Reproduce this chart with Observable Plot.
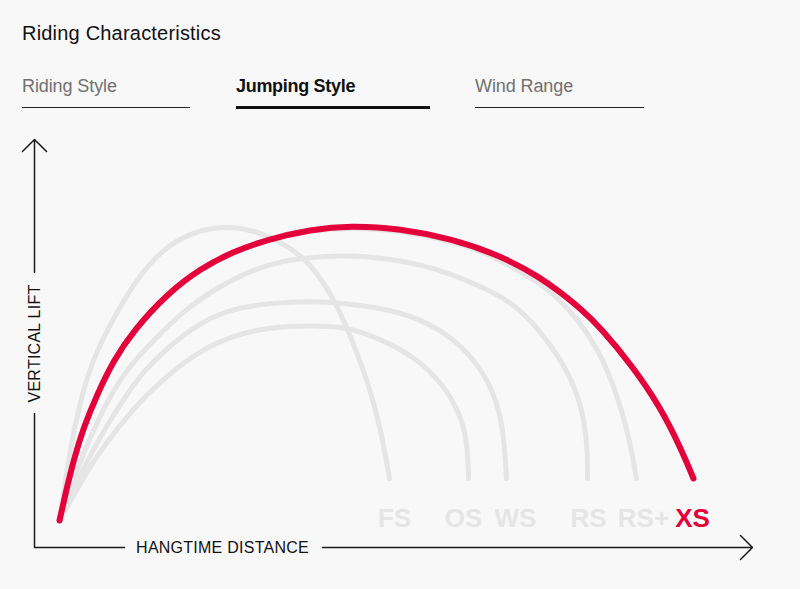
<!DOCTYPE html>
<html>
<head>
<meta charset="utf-8">
<script src="https://cdn.jsdelivr.net/npm/d3@7"></script>
<script src="https://cdn.jsdelivr.net/npm/@observablehq/plot@0.6"></script>
<style>
  html, body { margin: 0; padding: 0; background: #f8f8f8; }
  #wrap { width: 800px; height: 589px; position: relative; background: #f8f8f8; overflow: hidden;
          font-family: "Liberation Sans", Arial, sans-serif; }
  #head { position: relative; height: 120px; }
  .title { position: absolute; left: 22px; top: 23px; font-size: 20px; line-height: 20px; color: #111; letter-spacing: 0.2px; white-space: nowrap; }
  .tab { position: absolute; top: 77px; font-size: 18px; line-height: 18px; color: #707070; white-space: nowrap; letter-spacing: -0.1px; }
  .tab.active { color: #111; font-weight: bold; letter-spacing: -0.3px; }
  .rule { position: absolute; top: 107px; height: 1.3px; background: #222; }
  .rule.active { top: 105.5px; height: 3px; background: #111; }
  #chart { position: relative; height: 469px; }
</style>
</head>
<body>
<div id="wrap">
  <div id="head">
    <div class="title" id="title"></div>
    <div class="tab" id="tab0" style="left:22px"></div>
    <div class="tab active" id="tab1" style="left:236px"></div>
    <div class="tab" id="tab2" style="left:475px"></div>
    <div class="rule" style="left:22px;width:168px"></div>
    <div class="rule active" style="left:236px;width:194px"></div>
    <div class="rule" style="left:475px;width:169px"></div>
  </div>
  <div id="chart"></div>
</div>
<script>
// ---- text ----
const titleText = "Riding Characteristics";
const tabNames = ["Riding Style", "Jumping Style", "Wind Range"];
const yAxisLabel = "VERTICAL LIFT";
const xAxisLabel = "HANGTIME DISTANCE";

// ---- series (distance, lift) ----
const seriesNames = ["FS", "OS", "WS", "RS", "RS+", "XS"];
const highlighted = "XS";

const FS_distance = [26, 29, 34, 40, 48, 58, 76, 99, 126, 156, 189, 223, 256, 276, 299, 316, 333, 346, 355];
const FS_lift     = [27, 54, 87, 120, 154, 187, 224, 264, 297, 315, 322, 317, 300, 284, 250, 212, 167, 120, 69];

const OS_distance = [25, 40, 59, 83, 113, 139, 166, 199, 233, 276, 306, 333, 376, 406, 426, 433, 434];
const OS_lift     = [27, 54, 87, 120, 154, 177, 197, 212, 220, 222, 221, 214, 194, 167, 134, 104, 69];

const WS_distance = [25, 37, 53, 71, 93, 109, 149, 183, 216, 249, 276, 306, 366, 409, 439, 459, 469, 472];
const WS_lift     = [27, 54, 87, 120, 154, 177, 214, 234, 242, 245, 246, 245, 237, 217, 190, 157, 120, 69];

const RS_distance = [25, 34, 46, 60, 77, 94, 116, 149, 183, 216, 249, 276, 306, 333, 366, 399, 446, 479, 501, 524, 541, 550, 553, 553];
const RS_lift     = [27, 54, 87, 120, 154, 180, 204, 237, 260, 277, 287, 290, 292, 291, 287, 280, 262, 244, 222, 192, 160, 127, 97, 69];

const RSP_distance = [25, 31, 39, 49, 63, 79, 99, 133, 166, 199, 233, 276, 316, 366, 416, 446, 486, 513, 533, 553, 569, 582, 592, 598, 602];
const RSP_lift     = [27, 54, 87, 120, 154, 187, 217, 254, 279, 296, 308, 317, 320, 317, 306, 297, 276, 259, 240, 215, 187, 154, 120, 92, 69];

const XS_distance = [25, 31, 39, 49, 63, 79, 99, 133, 166, 199, 233, 276, 316, 366, 416, 466, 506, 526, 546, 566, 599, 626, 646, 659];
const XS_lift     = [27, 54, 87, 120, 154, 187, 217, 254, 279, 296, 308, 318, 322, 319, 309, 292, 270, 255, 239, 220, 180, 140, 100, 69];

// label positions under each curve end
const labelDistance = [360, 429, 481, 554, 609, 658];
const labelLift = 29;

// axes extent (distance, lift units)
const axisMaxDistance = 718;
const axisMaxLift = 408;

// ---- build tables ----
const curveData = {
  "FS": [FS_distance, FS_lift],
  "OS": [OS_distance, OS_lift],
  "WS": [WS_distance, WS_lift],
  "RS": [RS_distance, RS_lift],
  "RS+": [RSP_distance, RSP_lift],
  "XS": [XS_distance, XS_lift]
};
const rows = [];
for (const s of seriesNames) {
  const [dx, ly] = curveData[s];
  dx.forEach((d, i) => rows.push({series: s, distance: d, lift: ly[i]}));
}
const grayRows = rows.filter(r => r.series !== highlighted);
const redRows = rows.filter(r => r.series === highlighted);
const labels = seriesNames.map((s, i) => ({series: s, distance: labelDistance[i], lift: labelLift}));

// axis pieces (gaps left for the axis titles)
const corner = [{d: 0, l: 134}, {d: 0, l: 0}, {d: 90, l: 0}];
const arrows = [
  {x1: 0, y1: 275, x2: 0, y2: axisMaxLift},
  {x1: 288, y1: 0, x2: axisMaxDistance, y2: 0}
];

// ---- header ----
document.getElementById("title").textContent = titleText;
tabNames.forEach((t, i) => document.getElementById("tab" + i).textContent = t);

const RED = "#e4003a";
const GRAY = "#e5e5e5";
const INK = "#1a1a1a";
const FONT = "Liberation Sans, Arial, sans-serif";

const chart = Plot.plot({
  width: 800,
  height: 469,
  margin: 0,
  style: {background: "transparent", fontFamily: FONT, overflow: "visible"},
  x: {domain: [0, axisMaxDistance], range: [34, 752], axis: null},
  y: {domain: [0, axisMaxLift], range: [427, 19], axis: null},
  marks: [
    Plot.line(grayRows, {x: "distance", y: "lift", z: "series", stroke: GRAY, strokeWidth: 5,
      curve: "basis", strokeLinecap: "round", strokeLinejoin: "round"}),
    Plot.line(redRows, {x: "distance", y: "lift", z: "series", stroke: RED, strokeWidth: 6,
      curve: "basis", strokeLinecap: "round", strokeLinejoin: "round"}),
    Plot.text(labels.filter(d => d.series !== highlighted), {x: "distance", y: "lift", text: "series",
      fill: GRAY, fontSize: 26, fontWeight: "bold", fontFamily: FONT}),
    Plot.text(labels.filter(d => d.series === highlighted), {x: "distance", y: "lift", text: "series",
      fill: RED, fontSize: 26, fontWeight: "bold", fontFamily: FONT}),
    Plot.line(corner, {x: "d", y: "l", stroke: INK, strokeWidth: 1.5, strokeLinejoin: "miter"}),
    Plot.arrow(arrows, {x1: "x1", y1: "y1", x2: "x2", y2: "y2", stroke: INK, strokeWidth: 1.5,
      headAngle: 90, headLength: 17}),
    Plot.text([yAxisLabel], {x: 0, y: 204, text: d => d, rotate: -90, fill: "#111", fontSize: 16, fontFamily: FONT}),
    Plot.text([xAxisLabel], {x: 188, y: 0, text: d => d, fill: "#111", fontSize: 16, fontFamily: FONT})
  ]
});
chart.querySelectorAll("text").forEach(t => {
  if (t.textContent === yAxisLabel || t.textContent === xAxisLabel) t.style.letterSpacing = "0.25px";
});
document.getElementById("chart").appendChild(chart);
</script>
</body>
</html>
